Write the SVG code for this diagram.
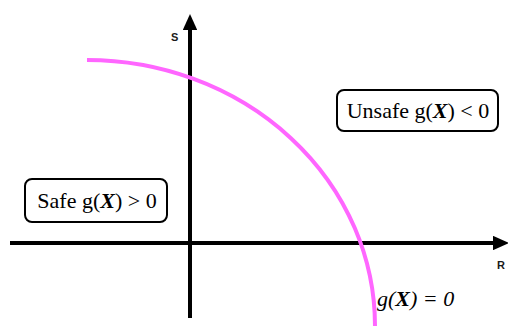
<svg xmlns="http://www.w3.org/2000/svg" width="508" height="326" viewBox="0 0 508 326">
<style>
.axis{stroke:#000;stroke-width:4;fill:none}
.box{fill:#fff;stroke:#000;stroke-width:2}
.lbl{font-family:"Liberation Serif",serif;font-size:22px;fill:#000}
.ax{font-family:"Liberation Sans",sans-serif;font-size:11px;font-weight:bold;fill:#1a1a1a}
</style>
<defs>
<marker id="ah" markerWidth="4" markerHeight="3.6" refX="2.5" refY="1.8" orient="auto" markerUnits="strokeWidth">
<path d="M0,0 L4,1.8 L0,3.6 Z" fill="#000"/>
</marker>
</defs>
<g id="connectors">
<line class="axis" x1="10" y1="243" x2="503" y2="243" marker-end="url(#ah)"/>
<line class="axis" x1="190" y1="318" x2="190" y2="20" marker-end="url(#ah)"/>
</g>
<g id="curve">
<path d="M87,60 A288,266 0 0 1 375,326" fill="none" stroke="#ff66ff" stroke-width="4"/>
</g>
<g id="s-label"><text class="ax" x="171" y="41">S</text></g>
<g id="r-label"><text class="ax" x="497" y="269">R</text></g>
<g id="unsafe">
<rect class="box" x="337" y="90" width="161" height="41" rx="7"/>
<text class="lbl" x="418" y="118" text-anchor="middle">Unsafe g(<tspan font-weight="bold" font-style="italic">X</tspan>) &lt; 0</text>
</g>
<g id="safe">
<rect class="box" x="25" y="179" width="142" height="43" rx="7"/>
<text class="lbl" x="97" y="208" text-anchor="middle">Safe g(<tspan font-weight="bold" font-style="italic">X</tspan>) &gt; 0</text>
</g>
<g id="g-zero">
<text class="lbl" x="377" y="306" font-style="italic">g(<tspan font-weight="bold">X</tspan>) = 0</text>
</g>
</svg>
